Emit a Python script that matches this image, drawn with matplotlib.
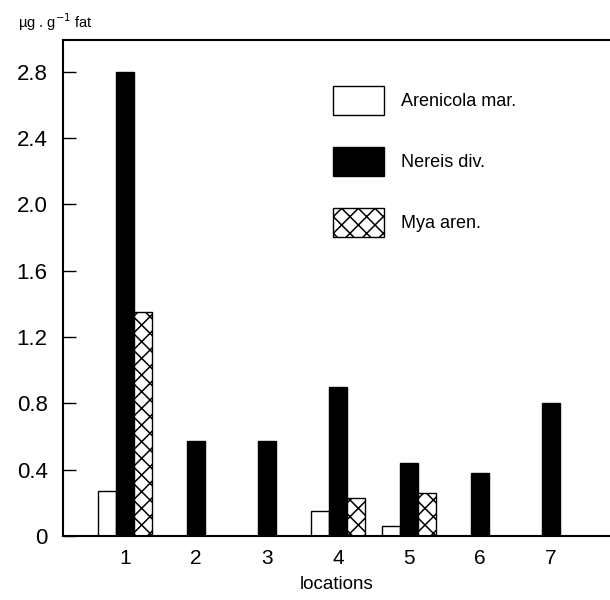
import numpy as np
import matplotlib
matplotlib.use("Agg")
import matplotlib.pyplot as plt

plt.rcParams['font.family'] = ['Liberation Sans', 'DejaVu Sans']
plt.rcParams['hatch.linewidth'] = 1.1

# Concentrations (µg per g fat) at each sampling location
locations = [1, 2, 3, 4, 5, 6, 7]
series_names = ["Arenicola mar.", "Nereis div.", "Mya aren."]
arenicola = [0.27, np.nan, np.nan, 0.15, 0.06, np.nan, np.nan]
nereis = [2.80, 0.57, 0.57, 0.90, 0.44, 0.38, 0.80]
mya = [1.35, np.nan, np.nan, 0.23, 0.26, np.nan, np.nan]
yticks = [0, 0.4, 0.8, 1.2, 1.6, 2.0, 2.4, 2.8]
ytick_labels = ["0", "0.4", "0.8", "1.2", "1.6", "2.0", "2.4", "2.8"]

fig = plt.figure(figsize=(6.1, 6.0), dpi=100)
ax = fig.add_axes([63 / 610, 1 - 536 / 600, 1 - 63 / 610, (536 - 40) / 600])

width = 0.255
styles = [
    dict(facecolor="white", edgecolor="black", hatch=None),
    dict(facecolor="black", edgecolor="black", hatch=None),
    dict(facecolor="white", edgecolor="black", hatch="xx"),
]
x = np.array(locations, dtype=float)
for i, (vals, name, st) in enumerate(zip([arenicola, nereis, mya], series_names, styles)):
    vals = np.array(vals, dtype=float)
    mask = ~np.isnan(vals)
    ax.bar(x[mask] + (i - 1) * width, vals[mask], width=width, linewidth=1.0,
           label=name, **st)

ax.set_xlim(0.127, 7.83)
ax.set_ylim(0, 2.99)
ax.set_xticks(locations)
ax.set_xticklabels([str(v) for v in locations], fontsize=15)
ax.set_yticks(yticks)
ax.set_yticklabels(ytick_labels, fontsize=16)
ax.tick_params(axis="y", direction="in", length=9.5, width=1.0, pad=11)
ax.tick_params(axis="x", length=0, pad=9)
ax.set_xlabel("locations", fontsize=13.5, labelpad=6)

for side in ["left", "bottom", "top"]:
    ax.spines[side].set_linewidth(1.5)
ax.spines["right"].set_visible(False)

fig.text(18 / 610, 1 - 28 / 600, "µg . g$^{-1}$ fat", fontsize=10.5, ha="left", va="baseline")

leg = ax.legend(loc="upper left", bbox_to_anchor=(333 / 610, 1 - 86 / 600),
                bbox_transform=fig.transFigure, frameon=False, fontsize=13,
                handlelength=2.82, handleheight=2.13, labelspacing=1.75,
                handletextpad=0.93, borderpad=0, borderaxespad=0)

fig.savefig("out.png", dpi=100)
